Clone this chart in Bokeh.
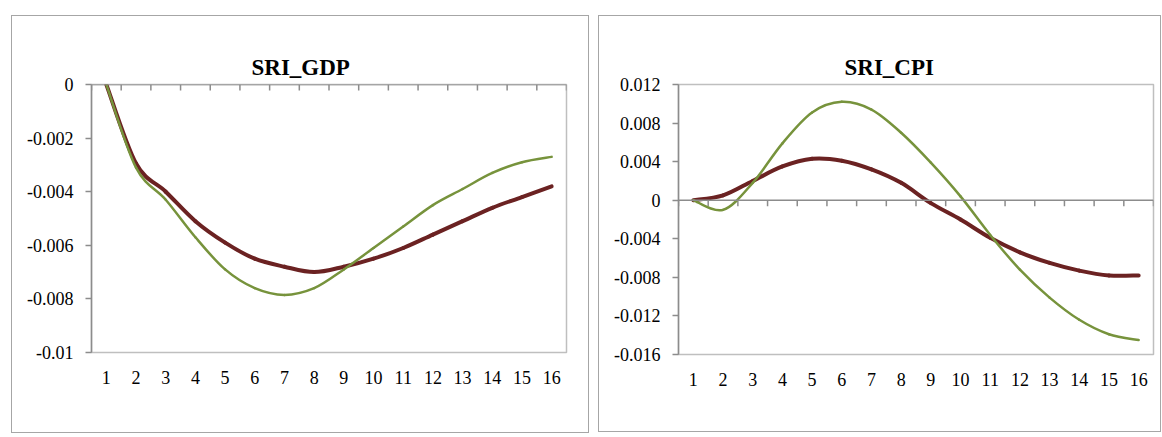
import numpy as np
from bokeh.plotting import figure
from bokeh.layouts import row
from bokeh.models import (Range1d, FixedTicker, Span, Legend, LegendItem,
                          ColumnDataSource, NumeralTickFormatter)
from bokeh.embed import file_html
from bokeh.resources import INLINE

# ---------------- data ----------------
periods = list(range(1, 17))
period_labels = [str(i) for i in periods]

gdp_baseline = [0.0, -0.00295, -0.0040, -0.0051, -0.0059, -0.0065, -0.0068, -0.0070,
                -0.0068, -0.0065, -0.0061, -0.0056, -0.0051, -0.0046, -0.0042, -0.0038]
gdp_exchange = [0.0, -0.0031, -0.0043, -0.0057, -0.0069, -0.0076, -0.00785, -0.0076,
                -0.0069, -0.0061, -0.0053, -0.0045, -0.0039, -0.0033, -0.0029, -0.0027]

cpi_baseline = [0.0, 0.0005, 0.0020, 0.0035, 0.0043, 0.0041, 0.0032, 0.0018,
                -0.0003, -0.0020, -0.0039, -0.0054, -0.0065, -0.0073, -0.0078, -0.0078]
cpi_exchange = [0.0, -0.0010, 0.0018, 0.0059, 0.0091, 0.0102, 0.0094, 0.0070,
                0.0039, 0.0004, -0.0036, -0.0072, -0.0101, -0.0124, -0.0139, -0.0145]

gdp_ticks = [0, -0.002, -0.004, -0.006, -0.008, -0.01]
gdp_tick_labels = ["0", "-0.002", "-0.004", "-0.006", "-0.008", "-0.01"]
cpi_ticks = [0.012, 0.008, 0.004, 0, -0.004, -0.008, -0.012, -0.016]
cpi_tick_labels = ["0.012", "0.008", "0.004", "0", "-0.004", "-0.008", "-0.012", "-0.016"]

series_names = ["Baseline Model", "Exchange Rate Model"]

# ---------------- style ----------------
FONT = "Liberation Serif"
BASE_COLOR = "#6B2222"
EXCH_COLOR = "#77933C"
AXIS_COLOR = "#8C8C8C"
FRAME_COLOR = "#BFBFBF"
PANEL_COLOR = "#A6A6A6"


def smooth_segments(xs, ys):
    """Bezier control points (Catmull-Rom style, like a spreadsheet's smoothed line)."""
    x = np.asarray(xs, float)
    y = np.asarray(ys, float)
    xp = np.concatenate([[x[0]], x, [x[-1]]])
    yp = np.concatenate([[y[0]], y, [y[-1]]])
    n = len(x)
    d = dict(x0=[], y0=[], x1=[], y1=[], cx0=[], cy0=[], cx1=[], cy1=[])
    for i in range(n - 1):
        p0x, p1x, p2x, p3x = xp[i], xp[i + 1], xp[i + 2], xp[i + 3]
        p0y, p1y, p2y, p3y = yp[i], yp[i + 1], yp[i + 2], yp[i + 3]
        d["x0"].append(p1x); d["y0"].append(p1y)
        d["x1"].append(p2x); d["y1"].append(p2y)
        d["cx0"].append(p1x + (p2x - p0x) / 6.0); d["cy0"].append(p1y + (p2y - p0y) / 6.0)
        d["cx1"].append(p2x - (p3x - p1x) / 6.0); d["cy1"].append(p2y - (p3y - p1y) / 6.0)
    return ColumnDataSource(d)


def make_panel(title, title_offset, title_standoff, base, exch, ticks, tick_labels,
               frame_w, frame_h, borders, margin, legend_pos):
    left, right, top, bottom = borders
    y0, y1 = min(ticks), max(ticks)
    p = figure(frame_width=frame_w, frame_height=frame_h,
               x_range=Range1d(0.5, len(periods) + 0.5),
               y_range=Range1d(y0, y1),
               output_backend="svg", toolbar_location=None,
               min_border_left=left, min_border_right=right,
               min_border_top=top, min_border_bottom=bottom)
    p.margin = margin
    p.styles = {"outline": "1.5px solid " + PANEL_COLOR}
    p.outline_line_color = FRAME_COLOR
    p.outline_line_width = 1.5
    p.xgrid.visible = False
    p.ygrid.visible = False

    # title
    p.title.text = title
    p.title.align = "left"
    p.title.offset = title_offset
    p.title.standoff = title_standoff
    p.title.text_font = FONT
    p.title.text_font_size = "23px"
    p.title.text_font_style = "bold"
    p.title.text_color = "black"

    # x axis (labels only, at the bottom)
    xa = p.xaxis[0]
    xa.ticker = FixedTicker(ticks=periods)
    xa.major_label_overrides = {k: v for k, v in zip(periods, period_labels)}
    xa.axis_line_color = None
    xa.major_tick_line_color = None
    xa.minor_tick_line_color = None
    xa.major_label_standoff = 12
    xa.major_label_text_font = FONT
    xa.major_label_text_font_size = "18px"
    xa.major_label_text_color = "black"

    # y axis
    ya = p.yaxis[0]
    ya.ticker = FixedTicker(ticks=ticks)
    ya.formatter = NumeralTickFormatter(format="0.[000]")
    ya.axis_line_color = AXIS_COLOR
    ya.axis_line_width = 1.5
    ya.major_tick_line_color = AXIS_COLOR
    ya.major_tick_line_width = 1.5
    ya.major_tick_out = 6
    ya.major_tick_in = 0
    ya.minor_tick_line_color = None
    ya.major_label_standoff = 12
    ya.major_label_text_font = FONT
    ya.major_label_text_font_size = "18px"
    ya.major_label_text_color = "black"

    # horizontal category axis line crossing at zero, ticks between categories
    p.add_layout(Span(location=0, dimension="width", line_color=AXIS_COLOR,
                      line_width=1.5))
    tick_len = 6 * (y1 - y0) / frame_h
    bounds = [c + 0.5 for c in [0] + periods]
    p.segment(x0=bounds, y0=[0] * len(bounds), x1=bounds, y1=[-tick_len] * len(bounds),
              line_color=AXIS_COLOR, line_width=1.5)

    # series (smoothed)
    p.bezier(x0="x0", y0="y0", x1="x1", y1="y1", cx0="cx0", cy0="cy0",
             cx1="cx1", cy1="cy1", source=smooth_segments(periods, base),
             line_color=BASE_COLOR, line_width=4, line_cap="round")
    p.bezier(x0="x0", y0="y0", x1="x1", y1="y1", cx0="cx0", cy0="cy0",
             cx1="cx1", cy1="cy1", source=smooth_segments(periods, exch),
             line_color=EXCH_COLOR, line_width=2.5, line_cap="round")

    # legend keys
    k_base = p.line(x=[], y=[], line_color=BASE_COLOR, line_width=4, line_cap="round")
    k_exch = p.line(x=[], y=[], line_color=EXCH_COLOR, line_width=2.5)

    legend = Legend(items=[LegendItem(label=series_names[0], renderers=[k_base]),
                           LegendItem(label=series_names[1], renderers=[k_exch])],
                    orientation="horizontal", location=legend_pos,
                    glyph_width=42, glyph_height=22, label_height=22,
                    label_standoff=1, spacing=31,
                    padding=0, margin=0, border_line_color=None,
                    background_fill_alpha=0,
                    label_text_font=FONT, label_text_font_size="19px",
                    label_text_color="black")
    p.add_layout(legend, "center")
    return p


p1 = make_panel("SRI_GDP", 160, 10, gdp_baseline, gdp_exchange, gdp_ticks, gdp_tick_labels,
                frame_w=475, frame_h=268, borders=(79, 22, 68, 80),
                margin=(16, 0, 0, 12), legend_pos=(9, -74))
p2 = make_panel("SRI_CPI", 166, 9, cpi_baseline, cpi_exchange, cpi_ticks, cpi_tick_labels,
                frame_w=475, frame_h=270, borders=(79, 7, 65, 80),
                margin=(16, 0, 0, 11), legend_pos=(11, -75))

layout = row(p1, p2)

open("out.html", "w").write(file_html(layout, INLINE))
